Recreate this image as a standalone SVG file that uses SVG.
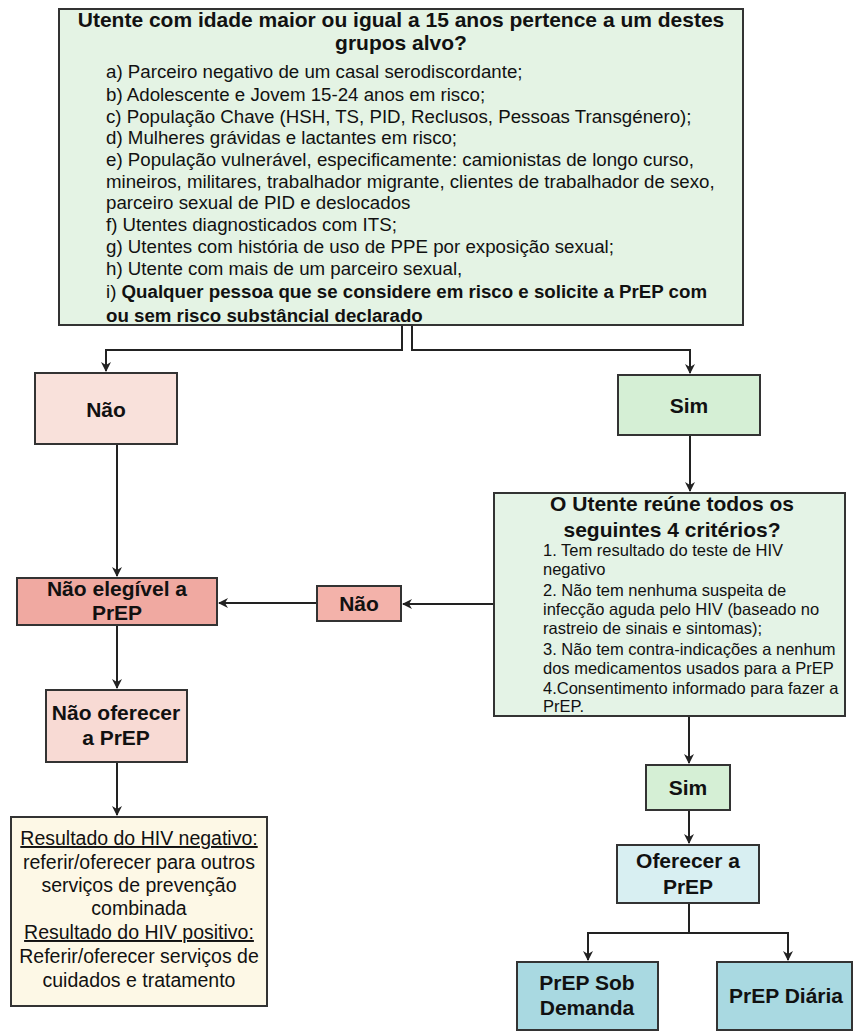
<svg xmlns="http://www.w3.org/2000/svg" width="854" height="1032" viewBox="0 0 854 1032">
<defs>
<marker id="arr" markerWidth="10" markerHeight="10" refX="9" refY="5" orient="auto" markerUnits="userSpaceOnUse">
<path d="M0,0 L10,5 L0,10 L3,5 Z" fill="#222"/>
</marker>
<style>
.box{stroke:#333;stroke-width:2}
.t{font-family:"Liberation Sans",Arial,sans-serif;fill:#111}
.b{font-weight:bold}
.c{text-anchor:middle}
.lbl{font-weight:bold;text-anchor:middle;font-size:21px}
.con{fill:none;stroke:#222;stroke-width:2}
</style>
</defs>
<rect width="854" height="1032" fill="#fff"/>

<g id="connectors">
<path class="con" d="M402,325 V350 H106 V371" marker-end="url(#arr)"/>
<path class="con" d="M412,325 V350 H690 V373" marker-end="url(#arr)"/>
<path class="con" d="M117,444 V576" marker-end="url(#arr)"/>
<path class="con" d="M690,435 V491" marker-end="url(#arr)"/>
<path class="con" d="M494,604 H403" marker-end="url(#arr)"/>
<path class="con" d="M317,603 H219" marker-end="url(#arr)"/>
<path class="con" d="M117,625 V688" marker-end="url(#arr)"/>
<path class="con" d="M117,762 V815" marker-end="url(#arr)"/>
<path class="con" d="M689,716 V763" marker-end="url(#arr)"/>
<path class="con" d="M689,810 V843" marker-end="url(#arr)"/>
<path class="con" d="M689,903 V933 H588 V960" marker-end="url(#arr)"/>
<path class="con" d="M689,933 H788 V960" marker-end="url(#arr)"/>
</g>

<g id="q1">
<rect class="box" x="59" y="9" width="684" height="316" fill="#e4f3e4"/>
<text class="t b c" x="401" y="27" font-size="21">Utente com idade maior ou igual a 15 anos pertence a um destes</text>
<text class="t b c" x="401" y="50" font-size="21">grupos alvo?</text>
<g class="t" font-size="18.7">
<text x="106" y="78">a) Parceiro negativo de um casal serodiscordante;</text>
<text x="106" y="101">b) Adolescente e Jovem 15-24 anos em risco;</text>
<text x="106" y="123">c) População Chave (HSH, TS, PID, Reclusos, Pessoas Transgénero);</text>
<text x="106" y="144">d) Mulheres grávidas e lactantes em risco;</text>
<text x="106" y="166">e) População vulnerável, especificamente: camionistas de longo curso,</text>
<text x="106" y="188">mineiros, militares, trabalhador migrante, clientes de trabalhador de sexo,</text>
<text x="106" y="209">parceiro sexual de PID e deslocados</text>
<text x="106" y="231">f) Utentes diagnosticados com ITS;</text>
<text x="106" y="253">g) Utentes com história de uso de PPE por exposição sexual;</text>
<text x="106" y="275">h) Utente com mais de um parceiro sexual,</text>
<text x="106" y="298">i) <tspan font-weight="bold">Qualquer pessoa que se considere em risco e solicite a PrEP com</tspan></text>
<text x="106" y="322" font-weight="bold">ou sem risco substâncial declarado</text>
</g>
</g>

<g id="nao1">
<rect class="box" x="35" y="373" width="142" height="71" fill="#f9e1db"/>
<text class="t lbl" x="106" y="417">Não</text>
</g>

<g id="sim1">
<rect class="box" x="618" y="375" width="142" height="60" fill="#d5efd5"/>
<text class="t lbl" x="689" y="413">Sim</text>
</g>

<g id="criterios">
<rect class="box" x="494" y="493" width="351" height="223" fill="#e4f3e6"/>
<text class="t b c" x="672" y="511" font-size="21">O Utente reúne todos os</text>
<text class="t b c" x="672" y="537" font-size="21">seguintes 4 critérios?</text>
<g class="t" font-size="16.5">
<text x="543" y="556">1. Tem resultado do teste de HIV</text>
<text x="543" y="575">negativo</text>
<text x="543" y="596">2. Não tem nenhuma suspeita de</text>
<text x="543" y="615">infecção aguda pelo HIV (baseado no</text>
<text x="543" y="634">rastreio de sinais e sintomas);</text>
<text x="543" y="655">3. Não tem contra-indicações a nenhum</text>
<text x="543" y="674">dos medicamentos usados para a PrEP</text>
<text x="543" y="694">4.Consentimento informado para fazer a</text>
<text x="543" y="712">PrEP.</text>
</g>
</g>

<g id="nao2">
<rect class="box" x="317" y="586" width="84" height="35" fill="#f3b2aa"/>
<text class="t lbl" x="359" y="611">Não</text>
</g>

<g id="nao-elegivel">
<rect class="box" x="17" y="578" width="200" height="47" fill="#f0a9a1"/>
<text class="t lbl" x="117" y="596">Não elegível a</text>
<text class="t lbl" x="117" y="620">PrEP</text>
</g>

<g id="nao-oferecer">
<rect class="box" x="46" y="690" width="141" height="72" fill="#f8dad4"/>
<text class="t lbl" x="116" y="720">Não oferecer</text>
<text class="t lbl" x="116" y="745">a PrEP</text>
</g>

<g id="resultado">
<rect class="box" x="11" y="817" width="256" height="189" fill="#fdf8e6"/>
<g class="t c" font-size="19.5">
<text x="139" y="845" text-decoration="underline">Resultado do HIV negativo:</text>
<text x="139" y="869">referir/oferecer para outros</text>
<text x="139" y="892">serviços de prevenção</text>
<text x="139" y="915">combinada</text>
<text x="139" y="939" text-decoration="underline">Resultado do HIV positivo:</text>
<text x="139" y="963">Referir/oferecer serviços de</text>
<text x="139" y="987">cuidados e tratamento</text>
</g>
</g>

<g id="sim2">
<rect class="box" x="646" y="765" width="84" height="45" fill="#d5efd5"/>
<text class="t lbl" x="688" y="795">Sim</text>
</g>

<g id="oferecer">
<rect class="box" x="617" y="845" width="142" height="58" fill="#d8eff2"/>
<text class="t lbl" x="688" y="868">Oferecer a</text>
<text class="t lbl" x="688" y="894">PrEP</text>
</g>

<g id="sob-demanda">
<rect class="box" x="517" y="962" width="141" height="68" fill="#a9d9e1"/>
<text class="t lbl" x="587" y="990">PrEP Sob</text>
<text class="t lbl" x="587" y="1015">Demanda</text>
</g>

<g id="diaria">
<rect class="box" x="717" y="962" width="135" height="68" fill="#a9d9e1"/>
<text class="t lbl" x="786" y="1003">PrEP Diária</text>
</g>
</svg>
